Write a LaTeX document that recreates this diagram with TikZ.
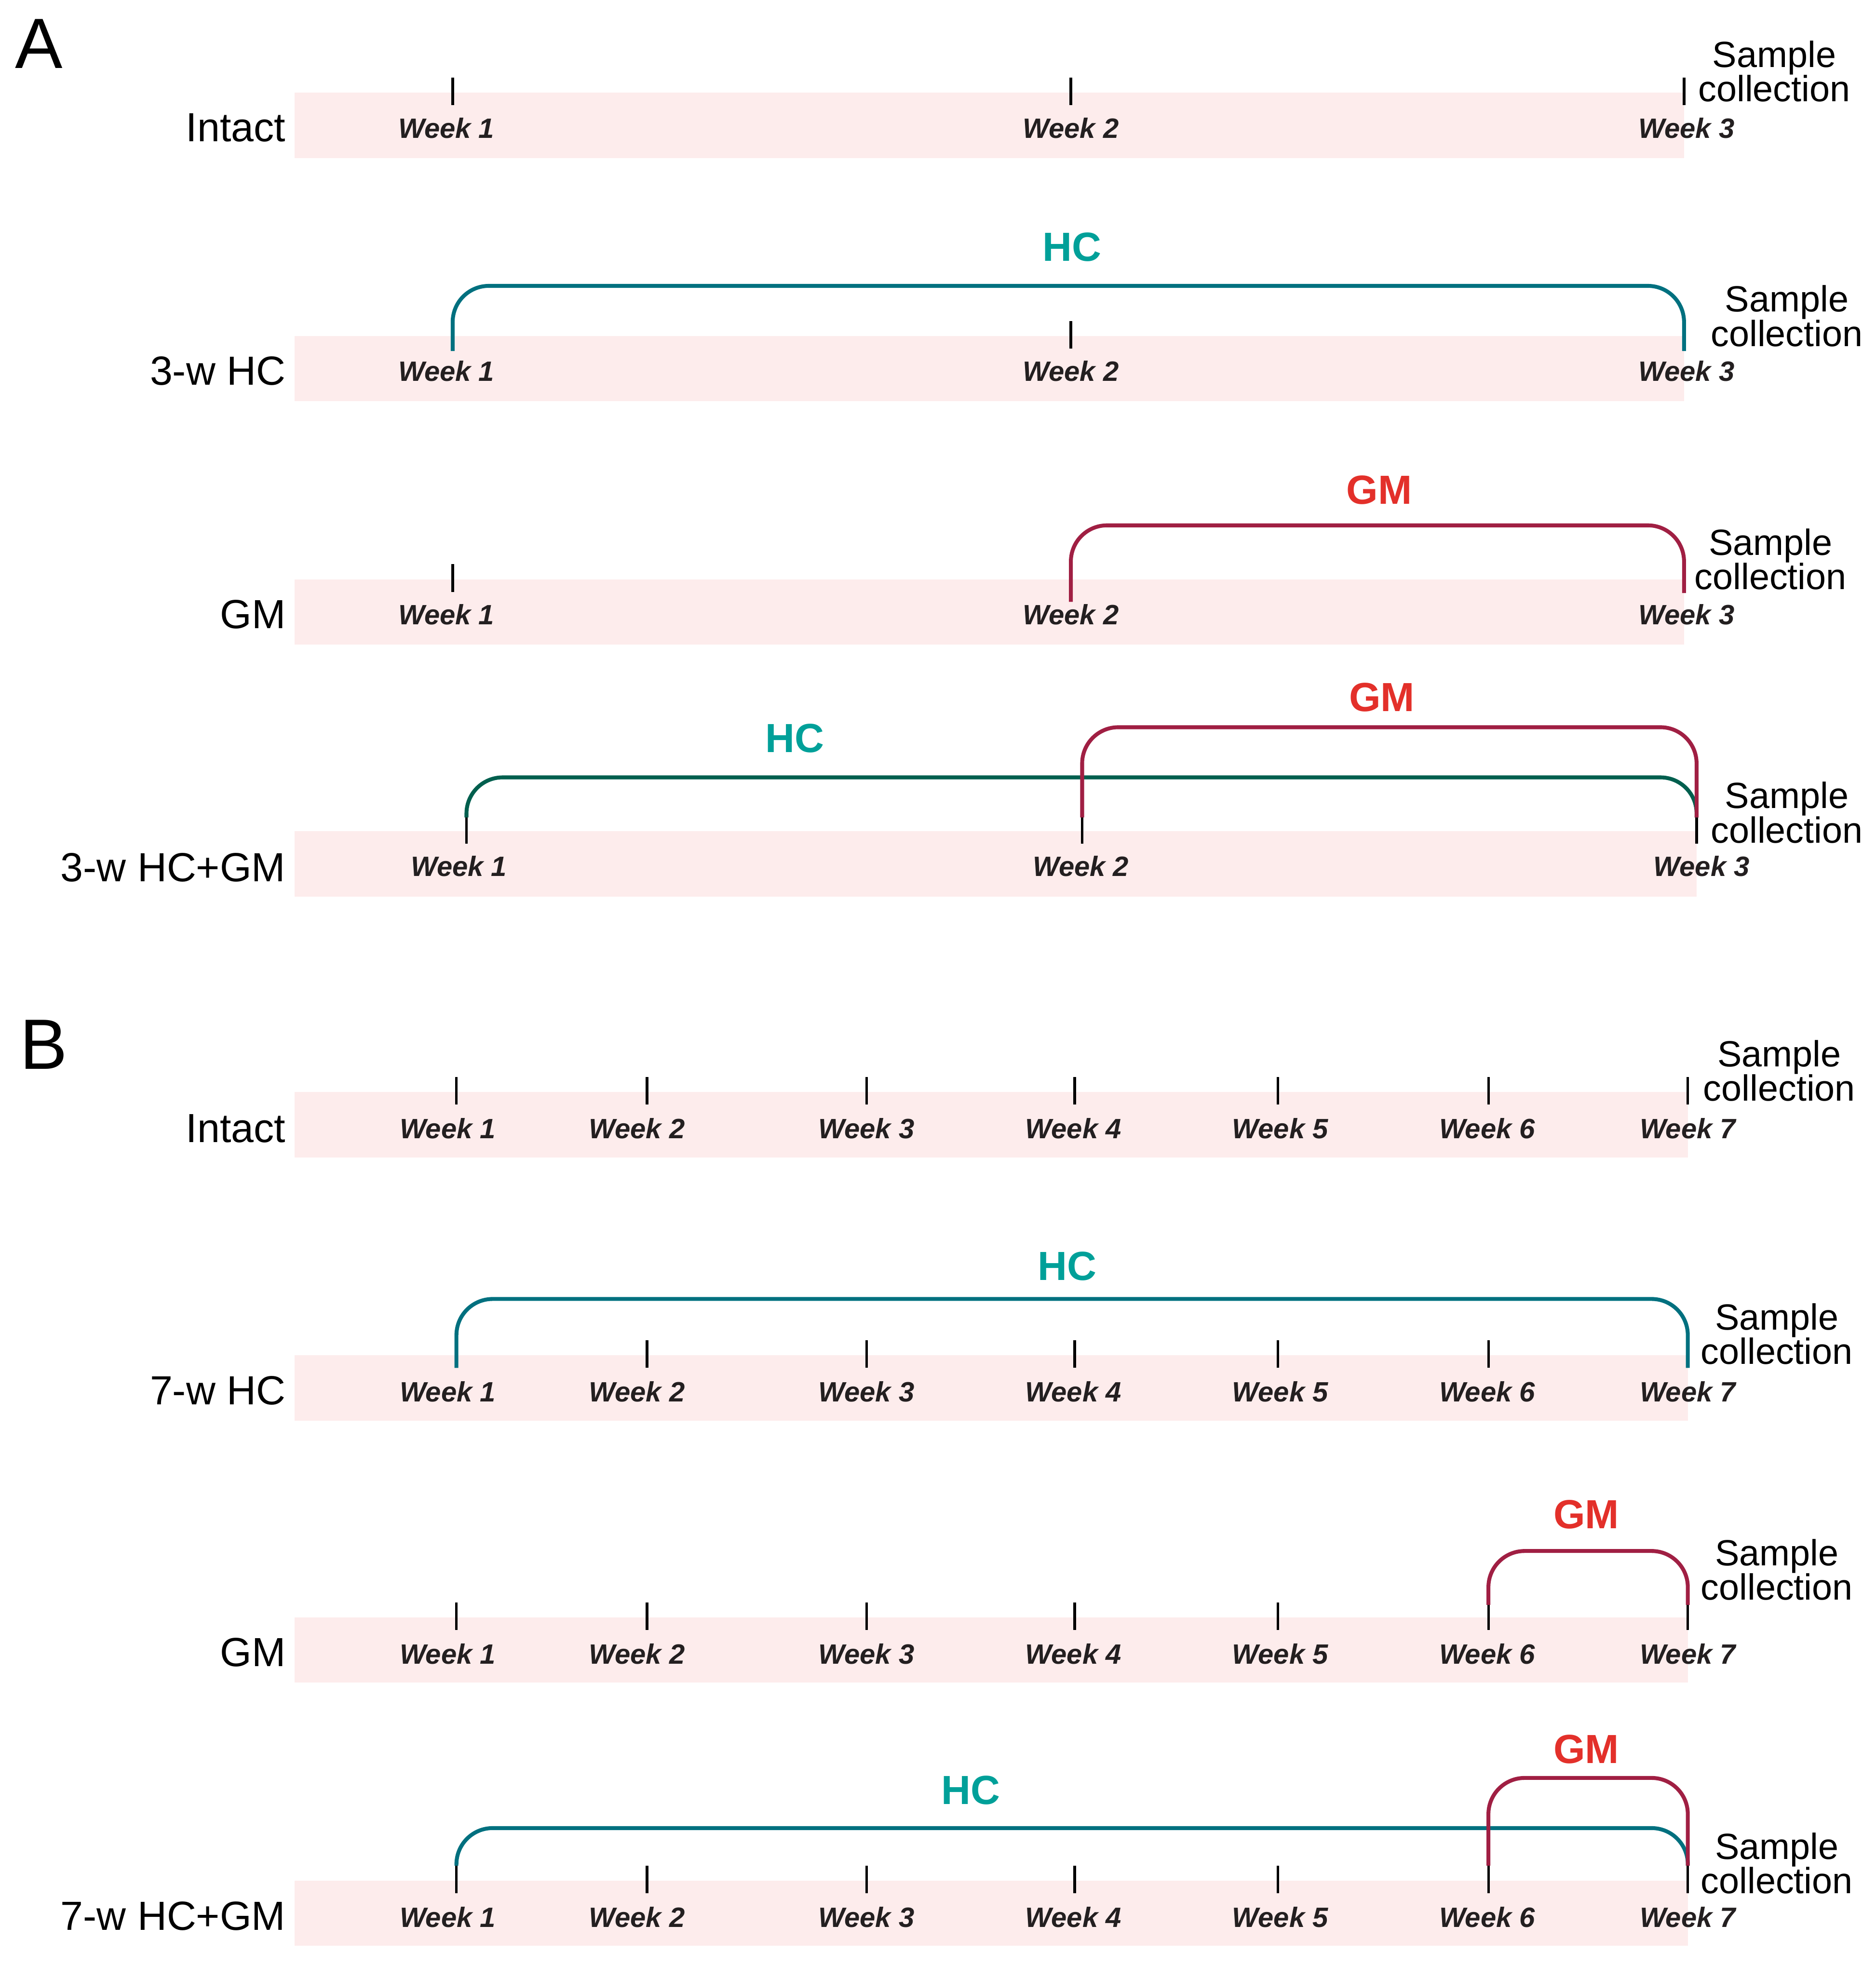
\documentclass[tikz,border=0pt]{standalone}
\usepackage{fontspec}
\setmainfont{Liberation Sans}
\usetikzlibrary{positioning}
\definecolor{barpink}{HTML}{FDECEC}
\definecolor{hcteal}{HTML}{00707F}
\definecolor{hcgreen}{HTML}{005F4E}
\definecolor{hctext}{HTML}{00A099}
\definecolor{gmline}{HTML}{A01F43}
\definecolor{gmtext}{HTML}{E3302A}
\definecolor{wktext}{HTML}{231F20}
\tikzset{
  bar/.style    = {fill=barpink, draw=none},
  tick/.style   = {line width=1.5pt, black},
  wk/.style     = {font=\fontsize{16.5}{18}\selectfont\bfseries\itshape,
                   text=wktext, inner sep=0pt},
  grp/.style    = {font=\fontsize{24}{28}\selectfont, anchor=east, inner sep=0pt},
  sc/.style     = {font=\fontsize{21.5}{20.3}\selectfont, align=center, inner sep=0pt},
  panel/.style  = {font=\fontsize{42}{46}\selectfont, inner sep=0pt},
  hcbr/.style   = {line width=2.3pt, hcteal, rounded corners=0.75cm},
  gmbr/.style   = {line width=2.3pt, gmline, rounded corners=0.75cm},
  hclab/.style  = {font=\fontsize{24}{28}\selectfont\bfseries, text=hctext, inner sep=0pt},
  gmlab/.style  = {font=\fontsize{24}{28}\selectfont\bfseries, text=gmtext, inner sep=0pt},
}

\begin{document}
\begin{tikzpicture}[x=0.026cm,y=-0.026cm]
\useasboundingbox (0,0) rectangle (1496,1568);

% panel A
\node[panel] (pA) at (31,35) {A};
\foreach \yt/\r in {74/1,268/2,462/3} {
  \path[bar] (235,\yt) rectangle (1343,\yt+52);
  \foreach \x/\lx/\n in {361/356/1,854/854/2,1343/1345/3} {
    \draw[tick] (\x,\yt-12) -- (\x,\yt+10);
    \node[wk] (a\r w\n) at (\lx,\yt+28) {Week \n};
  }
}
\path[bar] (235,663) rectangle (1353,715);
\foreach \x/\lx/\n in {372/366/1,863/862/2,1353/1357/3} {
  \draw[tick] (\x,651) -- (\x,673);
  \node[wk] (a4w\n) at (\lx,691) {Week \n};
}

\node[grp] (a1g) at (228,102) {Intact};
\node[grp] (a2g) at (228,296) {3-w HC};
\node[grp] (a3g) at (228,490) {GM};
\node[grp] (a4g) at (228,692) {3-w HC+GM};

\node[sc] (a1sc) at (1415,57) {Sample\\collection};
\node[sc] (a2sc) at (1425,252) {Sample\\collection};
\node[sc] (a3sc) at (1412,446) {Sample\\collection};
\node[sc] (a4sc) at (1425,648) {Sample\\collection};

\coordinate (a2s) at (361,280);  \coordinate (a2e) at (1343,280);
\coordinate (a3s) at (854,480);  \coordinate (a3e) at (1343,473);
\coordinate (a4hs) at (372,652); \coordinate (a4gs) at (863,652);
\coordinate (a4e) at (1353,652);
\draw[hcbr] (a2s) -- ++(0,-52) -| (a2e);
\draw[gmbr] (a3s) -- ++(0,-61) -| (a3e);
\draw[hcbr, hcgreen] (a4hs) -- ++(0,-32) -| (a4e);
\draw[gmbr] (a4gs) -- ++(0,-72) -| (a4e);
\node[hclab] (a2hc) at (855,197) {HC};
\node[gmlab] (a3gm) at (1100,391) {GM};
\node[hclab] (a4hc) at (634,589) {HC};
\node[gmlab] (a4gm) at (1102,556) {GM};

% panel B
\node[panel] (pB) at (35,833) {B};
\foreach \yt/\r in {871/1,1081/2,1290/3,1500/4} {
  \path[bar] (235,\yt) rectangle (1346,\yt+52);
  \foreach \x/\lx/\n in {364/357/1,516/508/2,691/691/3,857/856/4,
                         1019/1021/5,1187/1186/6,1346/1346/7} {
    \draw[tick] (\x,\yt-12) -- (\x,\yt+10);
    \node[wk] (b\r w\n) at (\lx,\yt+29) {Week \n};
  }
}

\node[grp] (b1g) at (228,900) {Intact};
\node[grp] (b2g) at (228,1109) {7-w HC};
\node[grp] (b3g) at (228,1318) {GM};
\node[grp] (b4g) at (228,1528) {7-w HC+GM};

\node[sc] (b1sc) at (1419,854) {Sample\\collection};
\node[sc] (b2sc) at (1417,1064) {Sample\\collection};
\node[sc] (b3sc) at (1417,1252) {Sample\\collection};
\node[sc] (b4sc) at (1417,1486) {Sample\\collection};

\coordinate (b2s) at (364,1091);  \coordinate (b2e) at (1346,1091);
\coordinate (b3s) at (1187,1280); \coordinate (b3e) at (1346,1280);
\coordinate (b4hs) at (364,1488); \coordinate (b4gs) at (1187,1488);
\coordinate (b4e) at (1346,1488);
\draw[hcbr] (b2s) -- ++(0,-55) -| (b2e);
\draw[gmbr] (b3s) -- ++(0,-43) -| (b3e);
\draw[hcbr] (b4hs) -- ++(0,-30) -| (b4e);
\draw[gmbr] (b4gs) -- ++(0,-70) -| (b4e);
\node[hclab] (b2hc) at (851,1010) {HC};
\node[gmlab] (b3gm) at (1265,1208) {GM};
\node[hclab] (b4hc) at (774,1428) {HC};
\node[gmlab] (b4gm) at (1265,1395) {GM};
\end{tikzpicture}
\end{document}
